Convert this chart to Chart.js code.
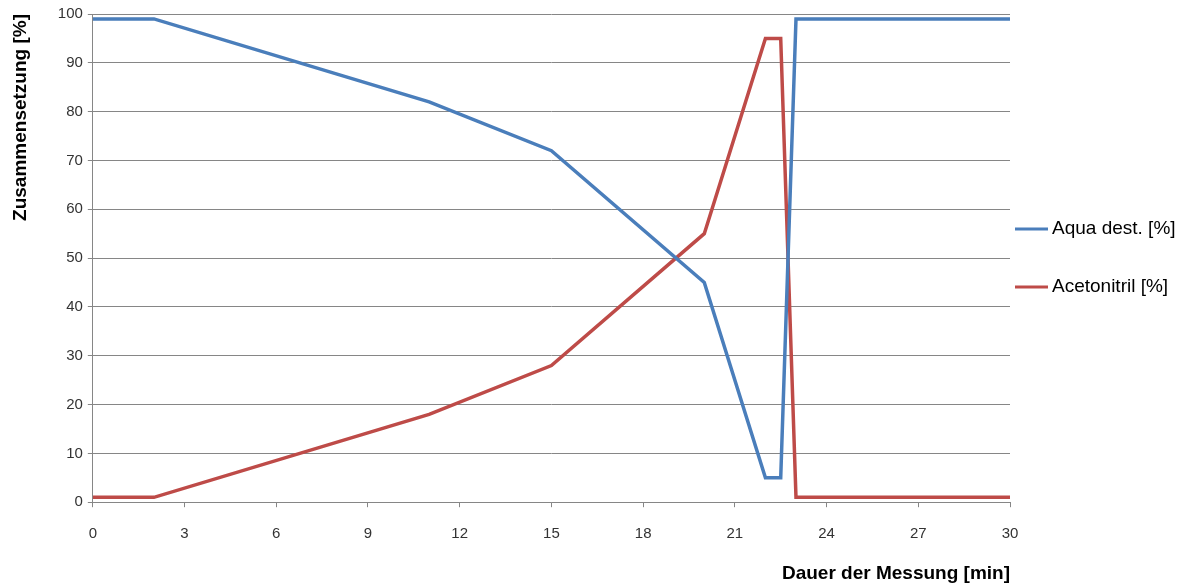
<!DOCTYPE html>
<html lang="de">
<head>
<meta charset="UTF-8">
<title>Zusammensetzung</title>
<script src="https://cdn.jsdelivr.net/npm/chart.js@4.4.0/dist/chart.umd.min.js"></script>
<style>
  html, body { margin: 0; padding: 0; background: #fff; }
  .wrap { width: 1192px; height: 585px; }
</style>
</head>
<body>
<div class="wrap"><canvas id="myChart" width="1192" height="585"></canvas></div>
<script>
// Zeitpunkte [min] und Anteile [%]
const zeiten = [0, 2, 11, 15, 20, 22, 22.5, 23, 30];
const aqua = [99, 99, 82, 72, 45, 5, 5, 99, 99];
const acetonitril = [1, 1, 18, 28, 55, 95, 95, 1, 1];
const serienNamen = ['Aqua dest. [%]', 'Acetonitril [%]'];
const xTicks = [0, 3, 6, 9, 12, 15, 18, 21, 24, 27, 30];

const grau = '#868686';
const schrift = "'Liberation Sans', Arial, sans-serif";

// Legende rechts, so wie Excel sie zeichnet
const legendePlugin = {
    id: 'legendeRechts',
    afterDraw(chart) {
        const ctx = chart.ctx;
        const area = chart.chartArea;
        const mitte = (area.top + area.bottom) / 2;
        const n = chart.data.datasets.length;
        chart.data.datasets.forEach((ds, i) => {
            const y = mitte + (i - (n - 1) / 2) * 58;
            const x = area.right + 5;
            ctx.save();
            ctx.strokeStyle = ds.borderColor;
            ctx.lineWidth = 3;
            ctx.beginPath();
            ctx.moveTo(x, y);
            ctx.lineTo(x + 33, y);
            ctx.stroke();
            ctx.fillStyle = '#000';
            ctx.font = '19px ' + schrift;
            ctx.textBaseline = 'middle';
            ctx.textAlign = 'left';
            ctx.fillText(ds.label, x + 37, y);
            ctx.restore();
        });
    }
};

const ctx = document.getElementById('myChart');

new Chart(ctx, {
    type: 'line',
    data: {
        datasets: [{
            label: serienNamen[0],
            data: zeiten.map((t, i) => ({ x: t, y: aqua[i] })),
            borderColor: '#4A7EBB',
            backgroundColor: '#4A7EBB',
            borderWidth: 3.5,
            pointRadius: 0,
            tension: 0
        }, {
            label: serienNamen[1],
            data: zeiten.map((t, i) => ({ x: t, y: acetonitril[i] })),
            borderColor: '#BE4B48',
            backgroundColor: '#BE4B48',
            borderWidth: 3.5,
            pointRadius: 0,
            tension: 0
        }]
    },
    options: {
        responsive: false,
        animation: false,
        layout: {
            padding: { left: 9, right: 182, top: 5, bottom: 0 }
        },
        plugins: {
            legend: { display: false },
            tooltip: { enabled: false }
        },
        scales: {
            x: {
                type: 'linear',
                min: 0,
                max: 30,
                afterBuildTicks: (scale) => { scale.ticks = xTicks.map(v => ({ value: v })); },
                grid: {
                    drawOnChartArea: false,
                    drawTicks: true,
                    tickLength: 5,
                    color: grau
                },
                border: { display: true, color: grau },
                ticks: {
                    padding: 18,
                    color: '#333',
                    font: { family: schrift, size: 15 },
                    maxRotation: 0
                },
                title: {
                    display: true,
                    text: 'Dauer der Messung [min]',
                    align: 'end',
                    color: '#000',
                    font: { family: schrift, size: 19, weight: 'bold' },
                    padding: { top: 1, bottom: 0 }
                }
            },
            y: {
                min: 0,
                max: 100,
                ticks: {
                    stepSize: 10,
                    padding: 5,
                    color: '#333',
                    font: { family: schrift, size: 15 }
                },
                grid: {
                    color: grau,
                    tickLength: 5
                },
                border: { display: true, color: grau },
                title: {
                    display: true,
                    text: 'Zusammensetzung [%]',
                    align: 'end',
                    color: '#000',
                    font: { family: schrift, size: 19, weight: 'bold' },
                    padding: { top: 0, bottom: 21 }
                }
            }
        }
    },
    plugins: [legendePlugin]
});
</script>
</body>
</html>
